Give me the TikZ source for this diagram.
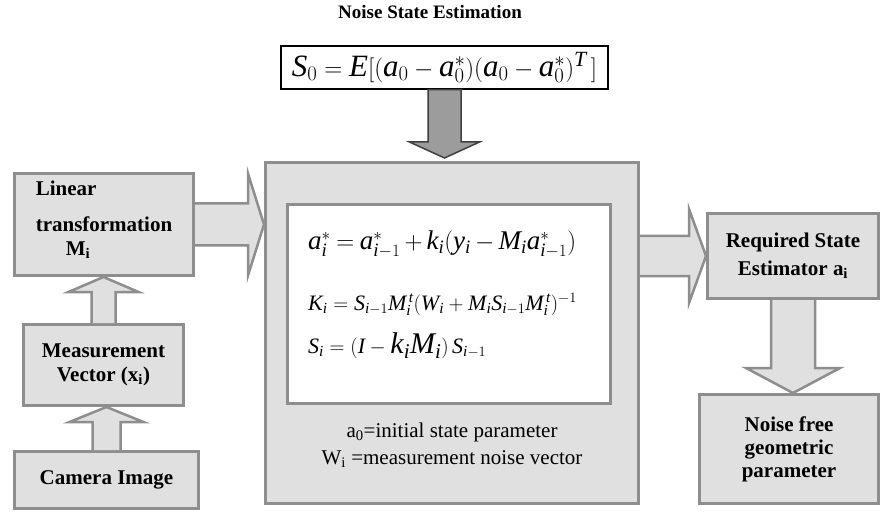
\documentclass[tikz,border=0pt]{standalone}
\usepackage{fontspec}
\setmainfont{Liberation Serif}
\DeclareSymbolFont{letters}{TU}{\rmdefault}{m}{it}
\usepackage{tikz}
\usetikzlibrary{calc}
\definecolor{kfgray}{HTML}{E0E0E0}
\definecolor{kfline}{HTML}{8E8E8E}
\definecolor{kfdark}{HTML}{9C9C9C}
\tikzset{
  kfbox/.style={draw=kfline, fill=kfgray, line width=3pt, align=center,
    inner sep=0pt, font=\fontsize{21}{24}\selectfont\bfseries},
  kfarrow/.style={draw=kfline, fill=kfgray, line width=2.5pt},
  kfdarrow/.style={draw=black!75, fill=kfdark, line width=1.5pt},
  kfeq/.style={anchor=base west, inner sep=0pt},
  kfnote/.style={font=\fontsize{21}{27}\selectfont, align=center}
}

\begin{document}
\begin{tikzpicture}[x=1pt, y=-1pt]
  \useasboundingbox (0,0) rectangle (881,513);
  % top: initial covariance
  \node[font=\fontsize{19}{22}\selectfont\bfseries] (title) at (430,12) {Noise State Estimation};
  \node[draw=black, fill=white, line width=1.5pt, minimum width=327, minimum height=43, inner sep=0pt]
    (s0) at (444.5,67.5) {\fontsize{31}{31}\selectfont $S_0 = E[(a_0-a_0^*)(a_0-a_0^*)^T\,]$};
  % filter block
  \node[kfbox, minimum width=373, minimum height=341] (ctr) at (452,333) {};
  \node[draw=kfline, fill=white, line width=3pt, minimum width=323, minimum height=199] (eq) at (449,304) {};
  \node[kfeq, font=\fontsize{27}{27}\selectfont] (eqa) at (308,250)
    {\medmuskip=3mu\thickmuskip=4mu$a_i^* = a_{i-1}^* + k_i(y_i - M_ia_{i-1}^*)$};
  \node[kfeq, font=\fontsize{22}{22}\selectfont] (eqk) at (308,310)
    {$K_i = S_{i-1}M_i^{\,t}(W_i + M_i S_{i-1} M_i^{\,t})^{-1}$};
  \node[kfeq, font=\fontsize{22}{22}\selectfont] (eqs) at (308,353)
    {$S_i = (I -{}$\fontsize{30}{30}\selectfont$k_iM_i$\fontsize{22}{22}\selectfont$)\,S_{i-1}$};
  \node[kfnote] (notes) at (452,445)
    {a\textsubscript{0}=initial state parameter\\W\textsubscript{i} =measurement noise vector};
  % left column
  \node[kfbox, minimum width=179, minimum height=102, align=left] (lin) at (104,224.5)
    {Linear\\[12pt]transformation\\\hspace*{30pt}M\textsubscript{i}\\[-12pt]\mbox{}};
  \node[kfbox, minimum width=160, minimum height=81] (meas) at (103.5,365) {Measurement\\Vector (x\textsubscript{i})};
  \node[kfbox, minimum width=184, minimum height=57] (cam) at (106.5,480) {Camera Image};
  % right column
  \node[kfbox, minimum width=171, minimum height=85, font=\fontsize{21}{28}\selectfont\bfseries]
    (req) at (793,256) {Required State\\Estimator a\textsubscript{i}};
  \node[kfbox, minimum width=179, minimum height=109, font=\fontsize{21}{23}\selectfont\bfseries]
    (nfree) at (789,449) {Noise free\\geometric\\parameter};

  % block arrows
  \coordinate (a1) at (lin.east -| ctr.west);
  \draw[kfarrow] ($(lin.east)+(0,-21)$) -- ($(a1)+(-16,-21)$) -- ($(a1)+(-16,-51)$) -- (a1)
    -- ($(a1)+(-16,51)$) -- ($(a1)+(-16,21)$) -- ($(lin.east)+(0,21)$);
  \coordinate (a2) at (req.west -| ctr.east);
  \draw[kfarrow] ($(a2)+(0,-20)$) -- ($(req.west)+(-17,-20)$) -- ($(req.west)+(-17,-47)$) -- (req.west)
    -- ($(req.west)+(-17,47)$) -- ($(req.west)+(-17,20)$) -- ($(a2)+(0,20)$);
  \coordinate (a3) at (meas.north |- lin.south);
  \draw[kfarrow] ($(meas.north)+(-12,0)$) -- ($(a3)+(-12,15)$) -- ($(a3)+(-35,15)$) -- (a3)
    -- ($(a3)+(35,15)$) -- ($(a3)+(12,15)$) -- ($(meas.north)+(12,0)$);
  \coordinate (a4) at (cam.north |- meas.south);
  \draw[kfarrow] ($(cam.north)+(-14,0)$) -- ($(a4)+(-14,15)$) -- ($(a4)+(-37,15)$) -- (a4)
    -- ($(a4)+(37,15)$) -- ($(a4)+(14,15)$) -- ($(cam.north)+(14,0)$);
  \coordinate (a5) at (req.south |- nfree.north);
  \draw[kfarrow] ($(req.south)+(-22,0)$) -- ($(a5)+(-22,-25)$) -- ($(a5)+(-47,-25)$) -- (a5)
    -- ($(a5)+(47,-25)$) -- ($(a5)+(22,-25)$) -- ($(req.south)+(22,0)$);
  \coordinate (a6) at ($(s0.south |- ctr.north)+(0,-3)$);
  \draw[kfdarrow] ($(s0.south)+(-16.5,0)$) -- ($(a6)+(-16.5,-16)$) -- ($(a6)+(-35,-16)$) -- (a6)
    -- ($(a6)+(35,-16)$) -- ($(a6)+(16.5,-16)$) -- ($(s0.south)+(16.5,0)$) -- cycle;
\end{tikzpicture}
\end{document}
